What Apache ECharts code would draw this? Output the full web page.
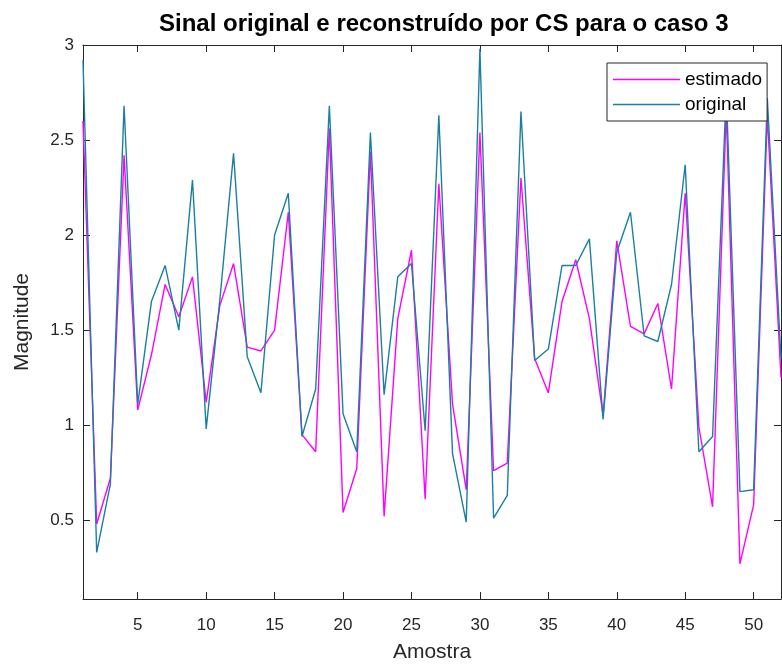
<!DOCTYPE html>
<html>
<head>
<meta charset="utf-8">
<script src="https://cdn.jsdelivr.net/npm/echarts@6/dist/echarts.min.js"></script>
<style>
html,body{margin:0;padding:0;background:#fff;}
#chart{width:782px;height:668px;}
</style>
</head>
<body>
<div id="chart"></div>
<script>
const amostras = [1,2,3,4,5,6,7,8,9,10,11,12,13,14,15,16,17,18,19,20,21,22,23,24,25,26,27,28,29,30,31,32,33,34,35,36,37,38,39,40,41,42,43,44,45,46,47,48,49,50,51,52];
const estimado = [2.60,0.48,0.72,2.42,1.08,1.37,1.74,1.57,1.78,1.12,1.63,1.85,1.41,1.39,1.50,2.12,0.95,0.86,2.56,0.54,0.77,2.44,0.52,1.56,1.92,0.61,2.27,1.11,0.66,2.54,0.76,0.80,2.30,1.35,1.17,1.65,1.87,1.56,1.05,1.97,1.52,1.48,1.64,1.19,2.22,0.99,0.57,2.66,0.27,0.58,2.63,1.25];
const original = [2.92,0.33,0.69,2.68,1.11,1.65,1.84,1.50,2.29,0.98,1.66,2.43,1.36,1.17,2.00,2.22,0.94,1.19,2.68,1.06,0.86,2.54,1.16,1.78,1.85,0.97,2.63,0.85,0.49,2.98,0.51,0.63,2.65,1.34,1.40,1.84,1.84,1.98,1.03,1.91,2.12,1.47,1.44,1.74,2.37,0.86,0.94,2.76,0.65,0.66,2.72,1.35];
const xTicks = [5,10,15,20,25,30,35,40,45,50];
const yTicks = [0.5,1,1.5,2,2.5,3];

const FONT = '"Liberation Sans", Arial, Helvetica, sans-serif';
const AX = '#262626';

const chart = echarts.init(document.getElementById('chart'), null, {renderer:'canvas'});

function pairs(ys){ return ys.map((v,i)=>[amostras[i], v]); }

const baseX = {
  type:'value', min:1, max:52, gridIndex:0,
  axisLine:{show:true, onZero:false, lineStyle:{color:AX, width:1}},
  axisTick:{show:true, inside:true, length:7, customValues:xTicks, lineStyle:{color:AX, width:1}},
  splitLine:{show:false}
};
const baseY = {
  type:'value', min:0.085, max:3, gridIndex:0,
  axisLine:{show:true, onZero:false, lineStyle:{color:AX, width:1}},
  axisTick:{show:true, inside:true, length:7, customValues:yTicks, lineStyle:{color:AX, width:1}},
  splitLine:{show:false}
};

chart.setOption({
  animation:false,
  backgroundColor:'#ffffff',
  title:{
    text:'Sinal original e reconstruído por CS para o caso 3',
    left:154, top:7,
    textStyle:{fontFamily:FONT, fontSize:24, fontWeight:'bold', color:'#000'}
  },
  grid:{left:83, top:45, width:698, height:555, containLabel:false},
  legend:{
    orient:'vertical', left:607, top:63,
    data:['estimado','original'],
    icon:'rect',
    backgroundColor:'#fff', borderColor:AX, borderWidth:1, borderRadius:0,
    padding:[7,5,7,6], itemGap:6, itemWidth:67, itemHeight:1.5,
    textStyle:{fontFamily:FONT, fontSize:19, color:'#000'}
  },
  xAxis:[
    Object.assign({}, baseX, {
      position:'bottom',
      axisLabel:{show:true, customValues:xTicks, fontFamily:FONT, fontSize:17, color:AX, margin:18},
      name:'Amostra', nameLocation:'middle', nameGap:43,
      nameTextStyle:{fontFamily:FONT, fontSize:21, color:AX}
    }),
    Object.assign({}, baseX, {position:'top', axisLabel:{show:false}})
  ],
  yAxis:[
    Object.assign({}, baseY, {
      position:'left',
      axisLabel:{show:true, customValues:yTicks, fontFamily:FONT, fontSize:17, color:AX, margin:9},
      name:'Magnitude', nameLocation:'middle', nameGap:50,
      nameTextStyle:{fontFamily:FONT, fontSize:21, color:AX}
    }),
    Object.assign({}, baseY, {position:'right', axisLabel:{show:false}})
  ],
  series:[
    {name:'estimado', type:'line', xAxisIndex:0, yAxisIndex:0, data:pairs(estimado),
     symbol:'none', clip:true, color:'#ff00ff', lineStyle:{color:'#ff00ff', width:1.4}},
    {name:'original', type:'line', xAxisIndex:0, yAxisIndex:0, data:pairs(original),
     symbol:'none', clip:true, color:'#1a7fa3', lineStyle:{color:'#1a7fa3', width:1.4}}
  ]
});
</script>
</body>
</html>
